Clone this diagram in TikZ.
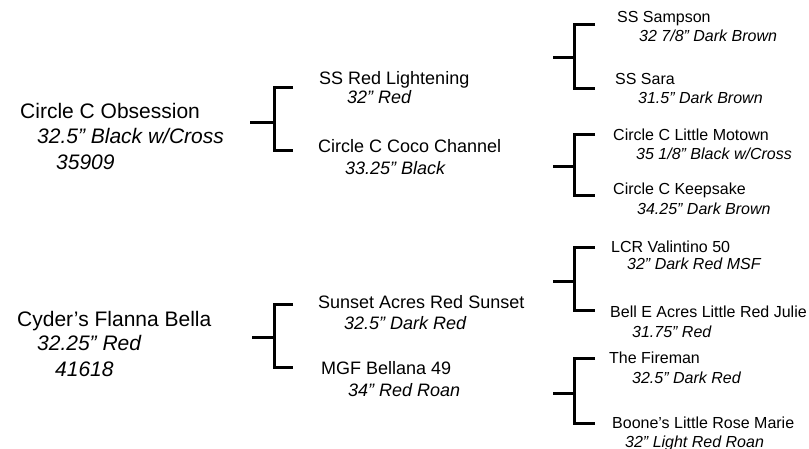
\documentclass[tikz,border=0pt]{standalone}
\usepackage{fontspec}
\setmainfont{Liberation Sans}
\begin{document}
\begin{tikzpicture}[x=1pt,y=-1pt,
  lbl/.style={anchor=west, inner sep=0pt, text depth=0pt},
  ga/.style={lbl, font=\fontsize{21}{25}\selectfont, text height=15pt},
  gb/.style={lbl, font=\fontsize{18}{22}\selectfont, text height=13pt},
  gc/.style={lbl, font=\fontsize{16}{19}\selectfont, text height=11.5pt},
  ia/.style={ga, font=\fontsize{21}{25}\selectfont\itshape},
  ib/.style={gb, font=\fontsize{18}{22}\selectfont\itshape},
  ic/.style={gc, font=\fontsize{16}{19}\selectfont\itshape},
  br/.style={line width=3pt, line join=miter, line cap=butt}]
\useasboundingbox (0,0) rectangle (809,448);
% generation 1
\node[ga] (o1) at (20,111) {Circle C Obsession};
\node[ia] (o1c) at (37,136) {32.5” Black w/Cross};
\node[ia] (o1n) at (56,162) {35909};
\node[ga] (c1) at (17,319) {Cyder’s Flanna Bella};
\node[ia] (c1c) at (37,343) {32.25” Red};
\node[ia] (c1n) at (55,369) {41618};
% generation 2
\node[gb] (a) at (319,78) {SS Red Lightening};
\node[ib] (ac) at (347,97) {32” Red};
\node[gb] (b) at (318,146) {Circle C Coco Channel};
\node[ib] (bc) at (345,168) {33.25” Black};
\node[gb] (c) at (318,302) {Sunset Acres Red Sunset};
\node[ib] (cc) at (344,323) {32.5” Dark Red};
\node[gb] (d) at (321,368) {MGF Bellana 49};
\node[ib] (dc) at (348,390) {34” Red Roan};
% generation 3
\node[gc] (e) at (617,17) {SS Sampson};
\node[ic] (ec) at (639,36) {32 7/8” Dark Brown};
\node[gc] (f) at (615,79) {SS Sara};
\node[ic] (fc) at (638,98) {31.5” Dark Brown};
\node[gc] (g) at (613,135) {Circle C Little Motown};
\node[ic] (gcol) at (636,154) {35 1/8” Black w/Cross};
\node[gc] (h) at (613,189) {Circle C Keepsake};
\node[ic] (hc) at (637,209) {34.25” Dark Brown};
\node[gc] (i) at (611,247) {LCR Valintino 50};
\node[ic] (icol) at (627,264) {32” Dark Red MSF};
\node[gc] (j) at (610,312) {Bell E Acres Little Red Julie};
\node[ic] (jc) at (632,332) {31.75” Red};
\node[gc] (k) at (609,358) {The Fireman};
\node[ic] (kc) at (632,378) {32.5” Dark Red};
\node[gc] (l) at (612,423) {Boone’s Little Rose Marie};
\node[ic] (lc) at (625,442) {32” Light Red Roan};
% brackets
\coordinate (s1) at (250,122);
\coordinate (s2) at (252,337);
\coordinate (s3) at (553,57);
\coordinate (s4) at (553,166);
\coordinate (s5) at (553,281);
\coordinate (s6) at (553,393);
\draw[br] (s1) -- (274,122);
\draw[br] (293,87) -- (274,87) -- (274,150) -- (293,150);
\draw[br] (s2) -- (274,337);
\draw[br] (293,304) -- (274,304) -- (274,367) -- (293,367);
\draw[br] (s3) -- (574,57);
\draw[br] (595,24) -- (574,24) -- (574,88) -- (595,88);
\draw[br] (s4) -- (574,166);
\draw[br] (595,134) -- (574,134) -- (574,195) -- (595,195);
\draw[br] (s5) -- (574,281);
\draw[br] (595,247) -- (574,247) -- (574,310) -- (595,310);
\draw[br] (s6) -- (574,393);
\draw[br] (595,358) -- (574,358) -- (574,423) -- (595,423);
\end{tikzpicture}
\end{document}
